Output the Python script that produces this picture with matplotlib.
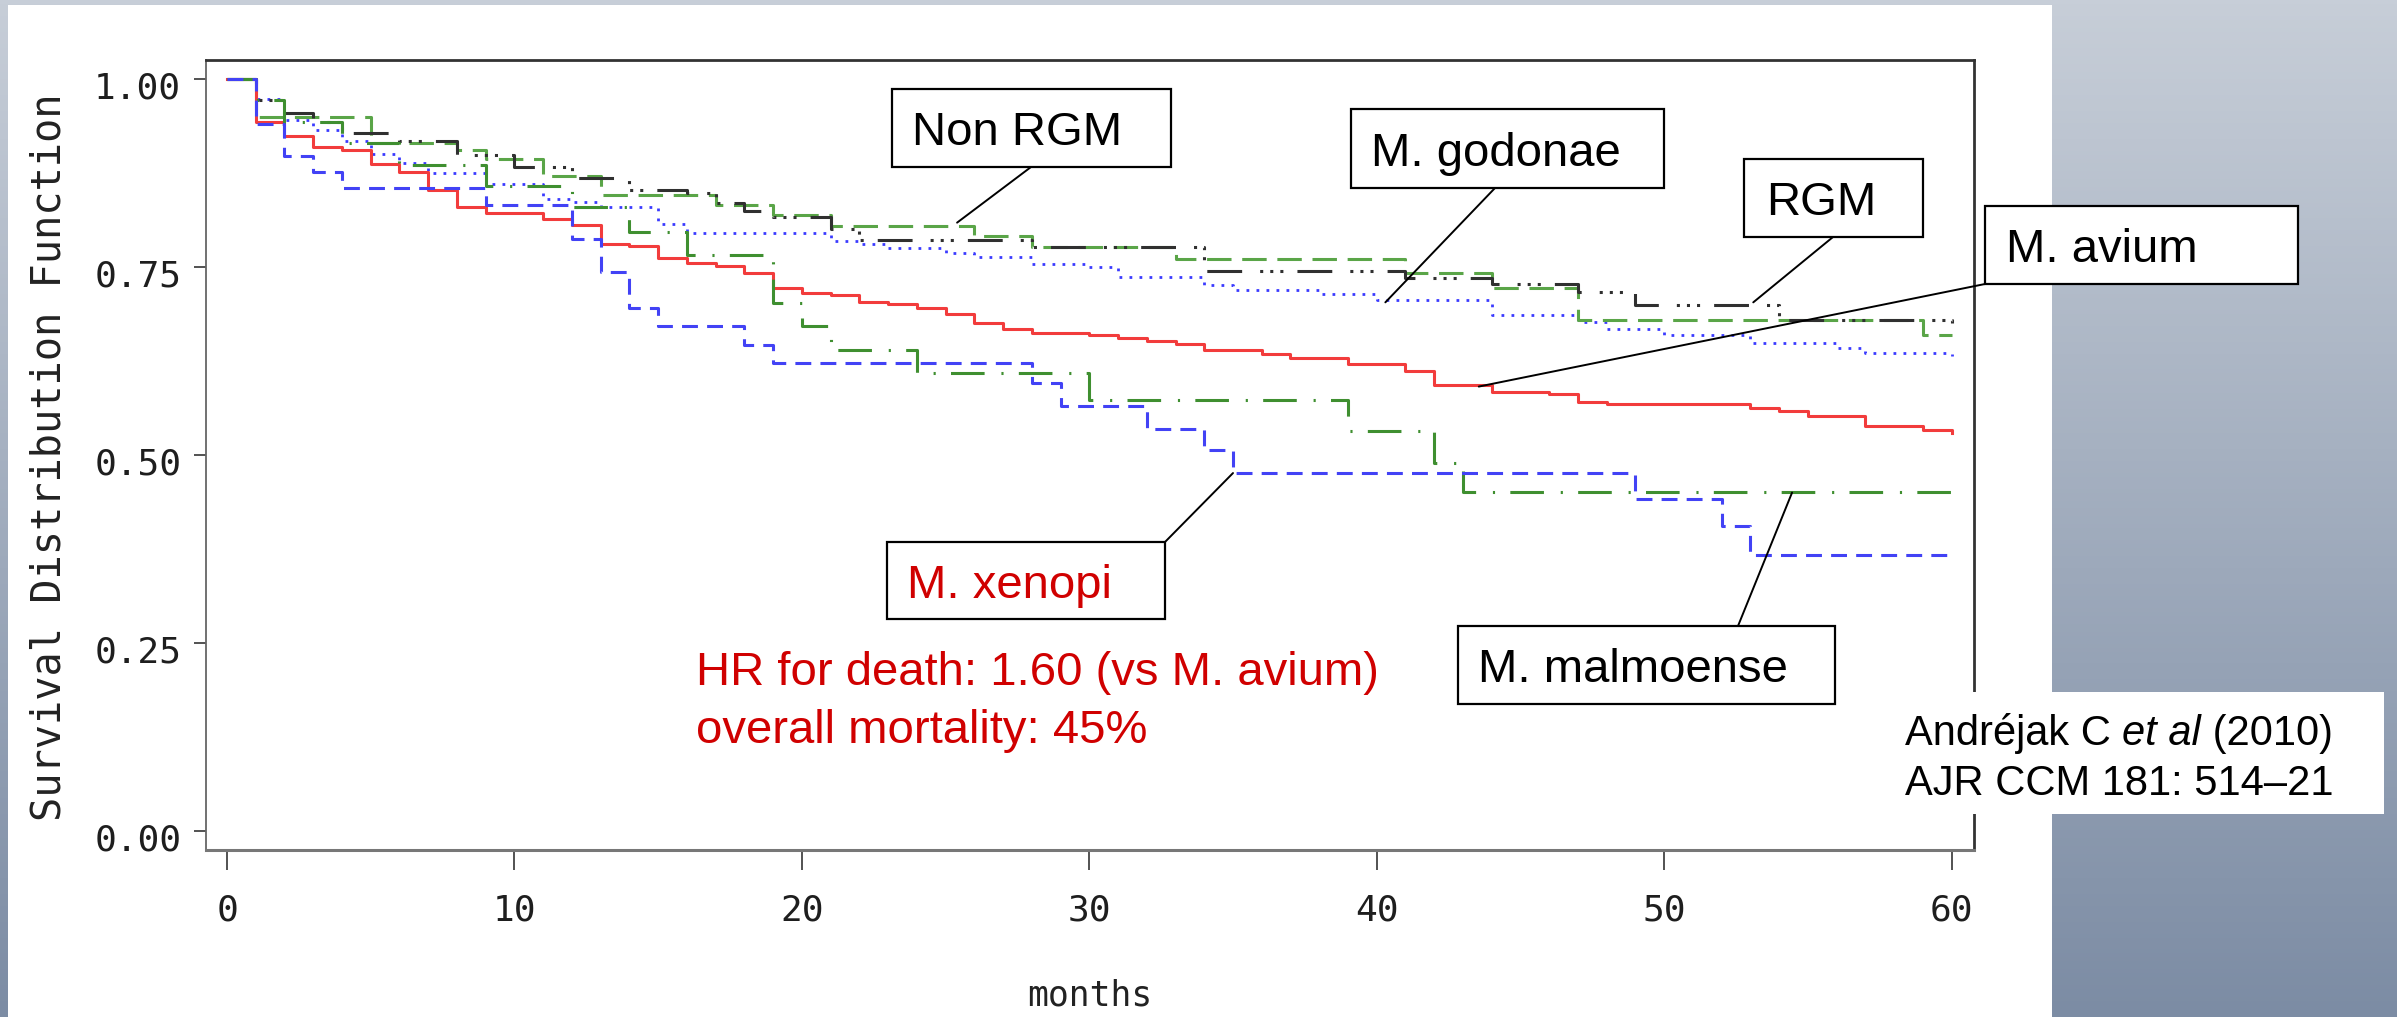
import numpy as np
import matplotlib
matplotlib.use("Agg")
import matplotlib.pyplot as plt
import matplotlib.patches as mpatches
from matplotlib.patches import ConnectionPatch
from matplotlib.colors import LinearSegmentedColormap
from matplotlib.transforms import ScaledTranslation

W, H = 2397, 1017
DPI = 100

# Kaplan-Meier steps: month of step, survival after it
nonrgm_t = [0, 1, 5, 8, 9, 11, 13, 17, 19, 21, 26, 28, 33, 41, 44, 47, 59, 60]
nonrgm_s = [1.0, 0.949, 0.915, 0.906, 0.893, 0.871, 0.846, 0.832, 0.819, 0.805,
            0.791, 0.777, 0.760, 0.742, 0.722, 0.680, 0.660, 0.660]

rgm_t = [0, 1, 2, 3, 4, 6, 8, 10, 12, 14, 16, 17, 18, 19, 21, 22, 28, 34, 41, 44,
         47, 49, 54, 60]
rgm_s = [1.0, 0.972, 0.955, 0.943, 0.928, 0.917, 0.899, 0.883, 0.869, 0.853,
         0.848, 0.835, 0.824, 0.817, 0.801, 0.786, 0.777, 0.745, 0.735, 0.728,
         0.717, 0.699, 0.680, 0.672]

godonae_t = [0, 1, 2, 3, 4, 5, 6, 7, 9, 11, 12, 13, 15, 16, 21, 22, 23, 25, 26, 28,
             30, 31, 34, 35, 38, 40, 44, 47, 48, 50, 53, 56, 57, 60]
godonae_s = [1.0, 0.974, 0.945, 0.932, 0.918, 0.900, 0.888, 0.875, 0.861, 0.841,
             0.837, 0.830, 0.807, 0.795, 0.784, 0.780, 0.775, 0.768, 0.763, 0.754,
             0.750, 0.737, 0.726, 0.720, 0.714, 0.706, 0.686, 0.677, 0.668, 0.660,
             0.649, 0.642, 0.636, 0.632]

avium_t = [0, 1, 2, 3, 4, 5, 6, 7, 8, 9, 11, 12, 13, 14, 15, 16, 17, 18, 19, 20,
           21, 22, 23, 24, 25, 26, 27, 28, 30, 31, 32, 33, 34, 36, 37, 39, 41, 42,
           44, 46, 47, 48, 53, 54, 55, 57, 59, 60]
avium_s = [1.0, 0.943, 0.924, 0.909, 0.906, 0.887, 0.877, 0.853, 0.830, 0.822,
           0.814, 0.806, 0.781, 0.778, 0.762, 0.756, 0.751, 0.742, 0.722, 0.715,
           0.713, 0.703, 0.701, 0.695, 0.688, 0.675, 0.667, 0.662, 0.660, 0.655,
           0.652, 0.647, 0.640, 0.634, 0.629, 0.621, 0.612, 0.593, 0.584, 0.581,
           0.570, 0.568, 0.563, 0.558, 0.552, 0.539, 0.533, 0.529]

malmo_t = [0, 1, 2, 4, 6, 9, 12, 14, 16, 19, 20, 21, 24, 30, 39, 42, 43, 60]
malmo_s = [1.0, 0.972, 0.943, 0.915, 0.886, 0.858, 0.830, 0.797, 0.766, 0.702,
           0.671, 0.639, 0.609, 0.573, 0.532, 0.490, 0.451, 0.451]

xenopi_t = [0, 1, 2, 3, 4, 9, 12, 13, 14, 15, 18, 19, 28, 29, 32, 34, 35, 49, 52,
            53, 60]
xenopi_s = [1.0, 0.940, 0.897, 0.877, 0.855, 0.832, 0.787, 0.744, 0.695, 0.672,
            0.646, 0.622, 0.596, 0.565, 0.535, 0.506, 0.476, 0.442, 0.406, 0.367,
            0.367]

x_ticks = [0, 10, 20, 30, 40, 50, 60]
y_ticks = [0.0, 0.25, 0.5, 0.75, 1.0]

# callout labels and the point on the curve each leader line ends at
labels = ["Non RGM", "M. godonae", "RGM", "M. avium", "M. xenopi", "M. malmoense"]
label_targets = [(25.4, 0.809), (40.3, 0.703), (53.1, 0.703), (43.55, 0.591),
                 (35.0, 0.476), (54.45, 0.450)]


def fx(X):
    return X / W


def fy(Y):
    return 1 - Y / H


fig = plt.figure(figsize=(W / DPI, H / DPI), dpi=DPI)

# slide background: grey-blue gradient with a white content panel
bg = fig.add_axes([0, 0, 1, 1], zorder=-10)
grad = np.linspace(0, 1, 256).reshape(-1, 1)
bg.imshow(grad, aspect="auto", extent=[0, 1, 0, 1],
          cmap=LinearSegmentedColormap.from_list("slide", ["#c7ced8", "#7c8ca4"]))
bg.axis("off")
fig.patches.append(mpatches.Rectangle((fx(8), 0), fx(2052) - fx(8), fy(5),
                                      transform=fig.transFigure, facecolor="white",
                                      edgecolor="none", zorder=-5))

ax = fig.add_axes([205.6 / W, 1 - 850 / H, (1974 - 205.6) / W, 790 / H])
ax.set_xlim(-0.745, 60.78)
ax.set_ylim(-0.0253, 1.0253)

lw = 2.2
ax.step(godonae_t, godonae_s, where="post", color="#3a3aff", lw=2.0,
        ls=(0, (1.0, 2.6)))
ax.step(nonrgm_t, nonrgm_s, where="post", color="#5aa548", lw=lw,
        ls=(0, (8, 3.5)))
ax.step(rgm_t, rgm_s, where="post", color="#303030", lw=lw,
        ls=(0, (11.4, 5.9, 1, 2.3, 1, 2.3, 1, 4.6)))
ax.step(avium_t, avium_s, where="post", color="#f23c3c", lw=lw)
ax.step(malmo_t, malmo_s, where="post", color="#3f8f30", lw=lw,
        ls=(0, (11, 5.5, 0.7, 5)))
ax.step(xenopi_t, xenopi_s, where="post", color="#4242f5", lw=lw,
        ls=(0, (5.2, 3)))

mono = "DejaVu Sans Mono"
ax.set_xticks(x_ticks)
ax.set_xticklabels([str(v) for v in x_ticks], fontsize=26, family=mono, color="#1e1e1e")
ax.set_yticks(y_ticks)
ax.set_yticklabels([f"{v:.2f}" for v in y_ticks], fontsize=26, family=mono, color="#1e1e1e")
ax.tick_params(axis="x", direction="out", length=14.4, width=1.3, color="#444", pad=17)
ax.tick_params(axis="y", direction="out", length=8.6, width=1.3, color="#444", pad=9)
shift = ScaledTranslation(0, -0.06, fig.dpi_scale_trans)
for lbl in ax.yaxis.get_majorticklabels():
    lbl.set_transform(lbl.get_transform() + shift)

for side, col, w in [("top", "#333", 2.0), ("right", "#333", 2.0),
                     ("left", "#666", 1.3), ("bottom", "#777", 2.2)]:
    ax.spines[side].set_color(col)
    ax.spines[side].set_linewidth(w)

ax.text((50 - 205.6) / 1768.4, 0.497, "Survival Distribution Function", transform=ax.transAxes,
        rotation=90, ha="center", va="center", fontsize=29, family=mono, color="#222")
ax.text(0.5, (850 - 995) / 790, "months", transform=ax.transAxes,
        ha="center", va="center", fontsize=25, family=mono, color="#222")

# callout boxes (pixel layout taken from the slide)
box_px = [(892, 1171, 89, 167), (1351, 1664, 109, 188), (1744, 1923, 159, 237),
          (1985, 2298, 206, 284), (887, 1165, 542, 619), (1458, 1835, 626, 704)]
text_px = [912, 1371, 1766, 2006, 907, 1478]
leader_px = [(1031, 167), (1495, 188), (1833, 237), (1985, 284), (1165, 542), (1738, 626)]
text_cols = ["black", "black", "black", "black", "#d00000", "black"]

sans = "Liberation Sans"
for lab, (x0, x1, y0, y1), tx, lp, tgt, col in zip(labels, box_px, text_px, leader_px,
                                                     label_targets, text_cols):
    fig.patches.append(mpatches.Rectangle((fx(x0), fy(y1)), fx(x1) - fx(x0), fy(y0) - fy(y1),
                                          transform=fig.transFigure, facecolor="white",
                                          edgecolor="black", lw=1.6, zorder=6))
    fig.text(fx(tx), fy((y0 + y1) / 2 + 17), lab, fontsize=34, family=sans, color=col,
             ha="left", va="baseline", zorder=7)
    con = ConnectionPatch(xyA=tgt, coordsA=ax.transData, xyB=(fx(lp[0]), fy(lp[1])),
                          coordsB=fig.transFigure, color="black", lw=1.4, zorder=5)
    fig.add_artist(con)

red = "#d00000"
fig.text(fx(696), fy(685), "HR for death: 1.60 (vs M. avium)", fontsize=34, family=sans,
         color=red, ha="left", va="baseline", zorder=7)
fig.text(fx(696), fy(743), "overall mortality: 45%", fontsize=34, family=sans,
         color=red, ha="left", va="baseline", zorder=7)

# reference box over the right spine
fig.patches.append(mpatches.Rectangle((fx(1900), fy(814)), fx(2384) - fx(1900), fy(692) - fy(814),
                                      transform=fig.transFigure, facecolor="white",
                                      edgecolor="none", zorder=6))
renderer = fig.canvas.get_renderer()
xpos = fx(1905)
for part, style in [("Andréjak C ", "normal"), ("et al", "italic"), (" (2010)", "normal")]:
    t = fig.text(xpos, fy(745), part, fontsize=30, family=sans, style=style,
                 ha="left", va="baseline", zorder=7)
    bb = t.get_window_extent(renderer)
    xpos = bb.x1 / W
fig.text(fx(1905), fy(795), "AJR CCM 181: 514–21", fontsize=30, family=sans,
         ha="left", va="baseline", zorder=7)

fig.savefig("out.png", dpi=DPI)
